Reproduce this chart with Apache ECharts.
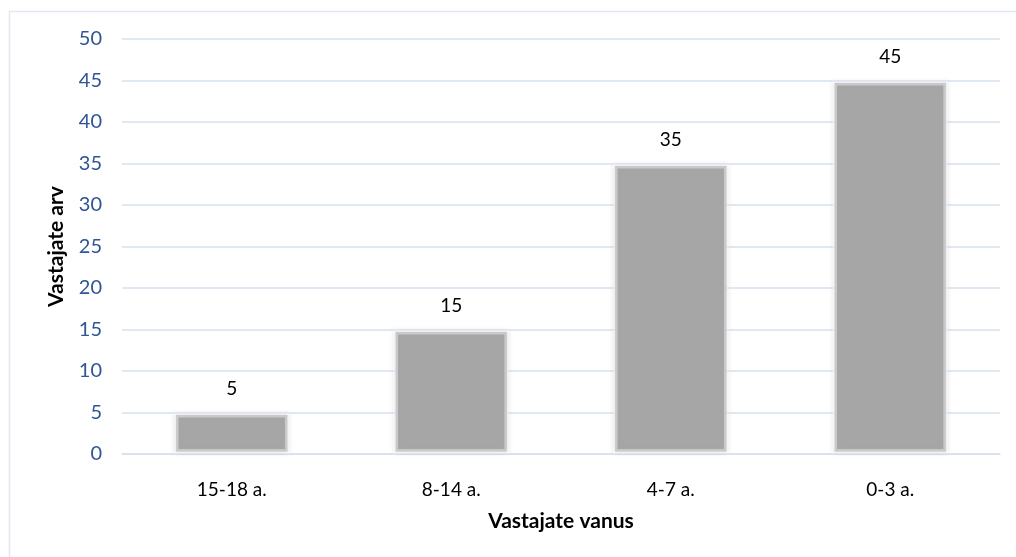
<!DOCTYPE html>
<html>
<head>
<meta charset="utf-8">
<script src="https://cdn.jsdelivr.net/npm/echarts@6/dist/echarts.min.js"></script>
<style>
  html, body { margin: 0; padding: 0; background: #ffffff; }
  #chart { width: 1016px; height: 557px; }
</style>
</head>
<body>
<div id="chart"></div>
<script>
// Age groups of respondents and how many answered in each
const categories = ['15-18 a.', '8-14 a.', '4-7 a.', '0-3 a.'];
const counts = [5, 15, 35, 45];
const yTicks = { min: 0, max: 50, interval: 5 };
const xAxisTitle = 'Vastajate vanus';
const yAxisTitle = 'Vastajate arv';

const FONT = 'Lato, "Open Sans", sans-serif';

const chart = echarts.init(document.getElementById('chart'), null, { renderer: 'canvas' });

chart.setOption({
  backgroundColor: '#ffffff',
  animation: false,
  graphic: [{
    type: 'rect',
    silent: true,
    shape: { x: 9.5, y: 11.5, width: 1020, height: 560 },
    style: { fill: 'none', stroke: '#dfe7f3', lineWidth: 1.5 }
  }],
  grid: { left: 122, right: 16, top: 39, bottom: 103 },
  xAxis: {
    type: 'category',
    data: categories,
    name: xAxisTitle,
    nameLocation: 'middle',
    nameGap: 57,
    nameTextStyle: { fontFamily: FONT, fontSize: 21, fontWeight: 'bold', color: '#000000' },
    axisLine: { show: true, lineStyle: { color: '#d6e0f0', width: 1.5 } },
    axisTick: { show: false },
    axisLabel: { fontFamily: FONT, fontSize: 19, color: '#000000', margin: 26 }
  },
  yAxis: {
    type: 'value',
    min: yTicks.min,
    max: yTicks.max,
    interval: yTicks.interval,
    name: yAxisTitle,
    nameLocation: 'middle',
    nameGap: 55,
    nameRotate: 90,
    nameTextStyle: { fontFamily: FONT, fontSize: 21, fontWeight: 'bold', color: '#000000' },
    axisLine: { show: false },
    axisTick: { show: false },
    axisLabel: { fontFamily: FONT, fontSize: 20, color: '#2f5597', margin: 20 },
    splitLine: { lineStyle: { color: '#d6e0f0', width: 1.5 } }
  },
  series: [{
    type: 'bar',
    data: counts,
    barWidth: '53%',
    itemStyle: {
      color: '#a6a6a6',
      borderColor: 'rgba(255,255,255,0.4)',
      borderWidth: 5,
      shadowBlur: 4,
      shadowColor: 'rgba(166,166,166,0.45)'
    },
    label: {
      show: true,
      position: 'top',
      distance: 14,
      fontFamily: FONT,
      fontSize: 19,
      color: '#000000'
    }
  }]
});
</script>
</body>
</html>
